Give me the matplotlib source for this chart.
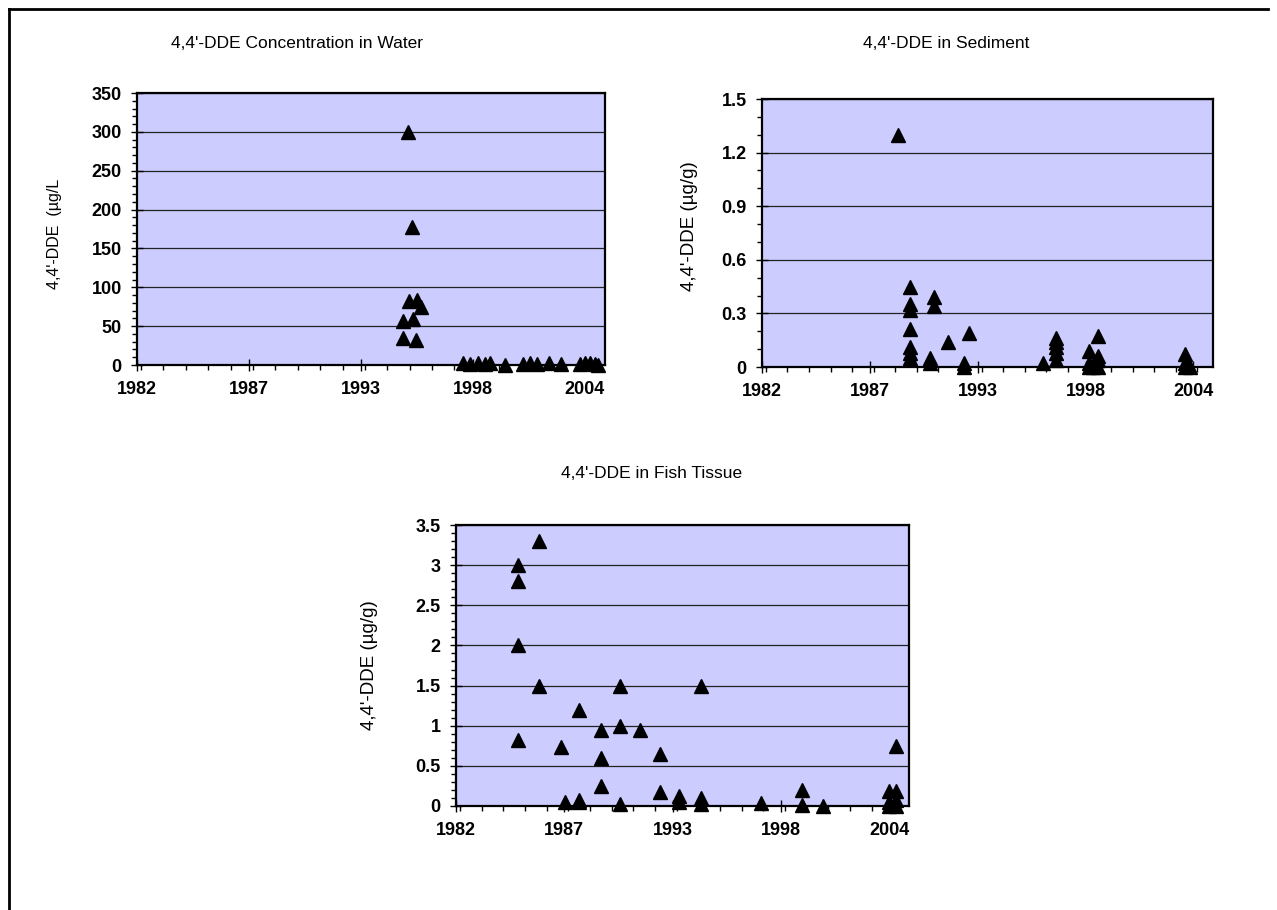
import numpy as np
import matplotlib
matplotlib.use("Agg")
import matplotlib.pyplot as plt
from matplotlib.ticker import FixedLocator, MultipleLocator, FuncFormatter
from matplotlib.lines import Line2D

plt.rcParams['font.family'] = ['Liberation Sans', 'DejaVu Sans']

# x axis: Excel date axis, 1982 .. 2005, major step 5.5 years
year_ticks = [1982, 1987.5, 1993, 1998.5, 2004]
year_labels = ['1982', '1987', '1993', '1998', '2004']

# water (ug/L)
water_year = [1995.30, 1995.50, 1995.38, 1995.75, 1995.94, 1995.06, 1995.58, 1995.09, 1995.70,
              1998.02, 1998.37, 1998.76, 1999.10, 1999.35, 2000.09, 2000.97, 2001.31,
              2001.66, 2002.25, 2002.84, 2003.77, 2004.02, 2004.26, 2004.51, 2004.66]
water_val = [300, 178, 82, 84, 75, 57, 59, 35, 32,
             2, 1, 3, 1, 2, 0.5, 1, 2,
             1, 2, 1, 1, 2, 3, 1, 0.5]

# sediment (ug/g)
sed_year = [1988.95,
            1989.55, 1989.55, 1989.55, 1989.55, 1989.55, 1989.55, 1989.55,
            1990.57, 1990.57, 1990.77, 1990.77, 1991.47, 1992.32, 1992.32, 1992.57,
            1996.31, 1996.98, 1996.98, 1996.98, 1996.98, 1996.98,
            1998.69, 1998.69, 1998.69, 1998.90, 1998.90,
            1999.15, 1999.15, 1999.15, 1999.15,
            2003.57, 2003.57, 2003.57, 2003.83]
sed_val = [1.30,
           0.45, 0.35, 0.32, 0.21, 0.11, 0.08, 0.05,
           0.05, 0.02, 0.39, 0.34, 0.14, 0.02, 0.0, 0.19,
           0.02, 0.16, 0.14, 0.11, 0.08, 0.04,
           0.09, 0.02, 0.0, 0.0, 0.01,
           0.175, 0.06, 0.04, 0.0,
           0.07, 0.02, 0.0, 0.0]

# fish tissue (ug/g)
fish_year = [1986.19, 1985.17, 1985.17, 1985.17, 1986.19, 1990.33, 1994.44, 1988.27,
             1989.35, 1990.33, 1991.34, 1985.17, 1987.34, 1989.35, 1992.36, 1989.35,
             1992.36, 1987.54, 1988.27, 1988.27, 1990.33, 1993.34, 1993.34, 1994.44,
             1994.44, 1997.51, 1999.59, 1999.59, 2000.61, 2003.97, 2003.97, 2003.97,
             2004.36, 2004.36, 2004.36, 2004.36]
fish_val = [3.3, 3.0, 2.8, 2.0, 1.5, 1.5, 1.5, 1.2,
            0.95, 1.0, 0.95, 0.82, 0.73, 0.6, 0.65, 0.25,
            0.18, 0.05, 0.08, 0.05, 0.02, 0.12, 0.05, 0.1,
            0.02, 0.04, 0.2, 0.01, 0.0, 0.19, 0.05, 0.0,
            0.75, 0.19, 0.07, 0.0]

fig = plt.figure(figsize=(12.77, 9.10), dpi=100)
W, H = 1277.0, 910.0


def panel(left, top, right, bottom, years, vals, ymax, ystep, yminor):
    ax = fig.add_axes([left / W, 1 - bottom / H, (right - left) / W, (bottom - top) / H])
    ax.set_facecolor('#ccccff')
    ax.plot(years, vals, linestyle='none', marker='^', markersize=9.5,
            color='black', clip_on=False, zorder=5)
    ax.set_xlim(1982, 2005)
    ax.set_ylim(0, ymax)
    ax.xaxis.set_major_locator(FixedLocator(year_ticks))
    ax.set_xticklabels(year_labels)
    ax.xaxis.set_minor_locator(MultipleLocator(1.1))
    ax.yaxis.set_major_locator(MultipleLocator(ystep))
    ax.yaxis.set_minor_locator(MultipleLocator(yminor))
    ax.yaxis.set_major_formatter(FuncFormatter(lambda v, p: '%g' % round(v, 3)))
    ax.grid(axis='y', color='#222222', linewidth=0.9)
    ax.set_axisbelow(True)
    ax.tick_params(which='major', direction='inout', length=9, width=1,
                   labelsize=13, pad=7)
    ax.tick_params(which='minor', direction='out', length=3.5, width=1)
    ax.tick_params(axis='y', which='major', pad=6.5)
    for lab in ax.get_xticklabels() + ax.get_yticklabels():
        lab.set_fontweight('bold')
    for s in ax.spines.values():
        s.set_linewidth(1.6)
    return ax


ax1 = panel(137, 93, 605, 365, water_year, water_val, 350, 50, 10)
ax2 = panel(762, 99, 1213, 367, sed_year, sed_val, 1.5, 0.3, 0.1)
ax3 = panel(456, 525, 909, 806, fish_year, fish_val, 3.5, 0.5, 0.1)

fig.text(297 / W, 1 - 44 / H, "4,4'-DDE Concentration in Water", ha='center', va='center', fontsize=12.5)
fig.text(946 / W, 1 - 44 / H, "4,4'-DDE in Sediment", ha='center', va='center', fontsize=12.5)
fig.text(652 / W, 1 - 473 / H, "4,4'-DDE in Fish Tissue", ha='center', va='center', fontsize=12.5)

fig.text(55 / W, 1 - 234 / H, "4,4'-DDE  (µg/L", rotation=90, ha='center', va='center', fontsize=11.5)
fig.text(689 / W, 1 - 226 / H, "4,4'-DDE (µg/g)", rotation=90, ha='center', va='center', fontsize=13.5)
fig.text(370 / W, 1 - 665 / H, "4,4'-DDE (µg/g)", rotation=90, ha='center', va='center', fontsize=13.5)

# page frame
fig.add_artist(Line2D([9 / W, 9 / W], [0, 1 - 9 / H], color='black', linewidth=2))
fig.add_artist(Line2D([9 / W, 1268 / W], [1 - 9 / H, 1 - 9 / H], color='black', linewidth=2))

fig.savefig('out.png', dpi=100)
